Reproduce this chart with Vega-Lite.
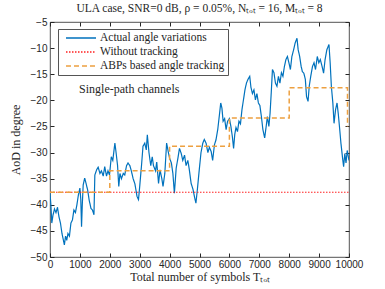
{
  "$schema": "https://vega.github.io/schema/vega-lite/v6.json",
  "autosize": "none",
  "width": 299,
  "height": 235,
  "padding": {"left": 50, "top": 22, "right": 36, "bottom": 32},
  "background": "white",
  "config": {
    "view": {"stroke": "#262626", "strokeWidth": 0.8},
    "axis": {
      "labelFont": "Liberation Sans",
      "labelFontSize": 10,
      "labelColor": "#262626",
      "titleFont": "Liberation Serif",
      "titleFontSize": 12,
      "titleFontWeight": "normal",
      "titleColor": "#262626",
      "domainColor": "#262626",
      "tickColor": "#262626",
      "grid": false
    },
    "legend": {
      "labelFont": "Liberation Serif",
      "labelFontSize": 11.5,
      "labelColor": "#262626",
      "labelLimit": 300,
      "symbolType": "M-3,0H3",
      "symbolSize": 100,
      "symbolStrokeWidth": 1.4,
      "symbolFillColor": "transparent",
      "strokeColor": "#555555",
      "fillColor": "white",
      "padding": 3,
      "rowPadding": 2,
      "symbolOffset": 14,
      "labelOffset": 13
    }
  },
  "title": {
    "text": "ULA case, SNR=0 dB, ρ = 0.05%, Nₜₒₜ = 16, Mₜₒₜ = 8",
    "font": "Liberation Serif",
    "fontSize": 11.5,
    "fontWeight": "normal",
    "color": "#262626",
    "offset": 3
  },
  "resolve": {"axis": {"x": "independent", "y": "independent"}},
  "layer": [
    {
      "data": {"values": [
        {"t": 0, "aod": -37.8}, {"t": 30, "aod": -40}, {"t": 60, "aod": -43.5}, {"t": 100, "aod": -42},
        {"t": 150, "aod": -40.8}, {"t": 200, "aod": -41.5}, {"t": 250, "aod": -40.5}, {"t": 300, "aod": -42.3},
        {"t": 350, "aod": -43.5}, {"t": 400, "aod": -45.5}, {"t": 450, "aod": -46.8}, {"t": 480, "aod": -47.7},
        {"t": 520, "aod": -46}, {"t": 560, "aod": -46.8}, {"t": 600, "aod": -45.5}, {"t": 650, "aod": -46},
        {"t": 700, "aod": -43.5}, {"t": 750, "aod": -42.9}, {"t": 800, "aod": -41}, {"t": 850, "aod": -41.5},
        {"t": 900, "aod": -40}, {"t": 950, "aod": -38.1}, {"t": 1000, "aod": -36.8}, {"t": 1030, "aod": -39},
        {"t": 1055, "aod": -44.2}, {"t": 1080, "aod": -40}, {"t": 1110, "aod": -36.2}, {"t": 1160, "aod": -34.9},
        {"t": 1210, "aod": -36}, {"t": 1260, "aod": -37.2}, {"t": 1310, "aod": -39.1}, {"t": 1370, "aod": -40.7},
        {"t": 1420, "aod": -41}, {"t": 1470, "aod": -41.9}, {"t": 1500, "aod": -34.3}, {"t": 1560, "aod": -33.3},
        {"t": 1610, "aod": -32.8}, {"t": 1670, "aod": -34}, {"t": 1720, "aod": -33.5}, {"t": 1780, "aod": -34.5},
        {"t": 1830, "aod": -32.7}, {"t": 1890, "aod": -34.5}, {"t": 1940, "aod": -33.5}, {"t": 1990, "aod": -34.3},
        {"t": 2050, "aod": -30.8}, {"t": 2100, "aod": -31.5}, {"t": 2170, "aod": -28.2}, {"t": 2210, "aod": -30},
        {"t": 2260, "aod": -32.5}, {"t": 2300, "aod": -36.5}, {"t": 2340, "aod": -34}, {"t": 2390, "aod": -35},
        {"t": 2450, "aod": -34}, {"t": 2500, "aod": -34.3}, {"t": 2560, "aod": -32.5}, {"t": 2610, "aod": -32},
        {"t": 2670, "aod": -32.5}, {"t": 2720, "aod": -33.5}, {"t": 2780, "aod": -35}, {"t": 2840, "aod": -36},
        {"t": 2910, "aod": -38.4}, {"t": 2960, "aod": -39}, {"t": 3000, "aod": -36.5}, {"t": 3060, "aod": -32.5},
        {"t": 3110, "aod": -28.8}, {"t": 3170, "aod": -28.2}, {"t": 3220, "aod": -29.5}, {"t": 3255, "aod": -26.6},
        {"t": 3310, "aod": -30}, {"t": 3370, "aod": -32.5}, {"t": 3420, "aod": -30.8}, {"t": 3460, "aod": -32.5},
        {"t": 3530, "aod": -33.5}, {"t": 3570, "aod": -31.8}, {"t": 3630, "aod": -35.9}, {"t": 3680, "aod": -33.3},
        {"t": 3740, "aod": -35}, {"t": 3780, "aod": -36.5}, {"t": 3840, "aod": -34}, {"t": 3900, "aod": -28.2},
        {"t": 3960, "aod": -30}, {"t": 4000, "aod": -31.1}, {"t": 4060, "aod": -32}, {"t": 4110, "aod": -34},
        {"t": 4160, "aod": -37.8}, {"t": 4220, "aod": -33}, {"t": 4280, "aod": -31}, {"t": 4330, "aod": -29.2},
        {"t": 4390, "aod": -30.2}, {"t": 4440, "aod": -31.5}, {"t": 4500, "aod": -30.5}, {"t": 4550, "aod": -32.5},
        {"t": 4610, "aod": -31.5}, {"t": 4660, "aod": -33.3}, {"t": 4720, "aod": -35.9}, {"t": 4780, "aod": -37},
        {"t": 4830, "aod": -38.4}, {"t": 4880, "aod": -39.7}, {"t": 4930, "aod": -37}, {"t": 4980, "aod": -34},
        {"t": 5050, "aod": -30}, {"t": 5110, "aod": -28.2}, {"t": 5160, "aod": -27.5}, {"t": 5220, "aod": -28.2},
        {"t": 5280, "aod": -30}, {"t": 5330, "aod": -29}, {"t": 5390, "aod": -29.8}, {"t": 5440, "aod": -31.5},
        {"t": 5500, "aod": -28.5}, {"t": 5550, "aod": -27.6}, {"t": 5610, "aod": -25.6}, {"t": 5660, "aod": -23.1},
        {"t": 5710, "aod": -20.5}, {"t": 5750, "aod": -21.5}, {"t": 5790, "aod": -24}, {"t": 5840, "aod": -23.5},
        {"t": 5890, "aod": -25.6}, {"t": 5940, "aod": -24}, {"t": 6000, "aod": -23.5}, {"t": 6050, "aod": -25},
        {"t": 6100, "aod": -27}, {"t": 6140, "aod": -29.2}, {"t": 6180, "aod": -26.5}, {"t": 6220, "aod": -25.2},
        {"t": 6270, "aod": -26}, {"t": 6320, "aod": -24}, {"t": 6370, "aod": -24.5}, {"t": 6420, "aod": -21.8},
        {"t": 6470, "aod": -19.9}, {"t": 6520, "aod": -18}, {"t": 6570, "aod": -16.7}, {"t": 6620, "aod": -16},
        {"t": 6680, "aod": -15.4}, {"t": 6720, "aod": -17.5}, {"t": 6770, "aod": -18.7}, {"t": 6820, "aod": -18},
        {"t": 6870, "aod": -19.9}, {"t": 6920, "aod": -18.7}, {"t": 6970, "aod": -20.5}, {"t": 7020, "aod": -21},
        {"t": 7070, "aod": -23.1}, {"t": 7120, "aod": -25.6}, {"t": 7180, "aod": -27.2}, {"t": 7230, "aod": -25},
        {"t": 7270, "aod": -23.1}, {"t": 7320, "aod": -25}, {"t": 7360, "aod": -22.5}, {"t": 7400, "aod": -18.5},
        {"t": 7440, "aod": -14.1}, {"t": 7490, "aod": -14.7}, {"t": 7540, "aod": -16.7}, {"t": 7590, "aod": -17.3},
        {"t": 7640, "aod": -15.4}, {"t": 7690, "aod": -16.7}, {"t": 7740, "aod": -14.7}, {"t": 7790, "aod": -15.4},
        {"t": 7840, "aod": -13.5}, {"t": 7890, "aod": -12.2}, {"t": 7940, "aod": -11.6}, {"t": 7990, "aod": -12.8},
        {"t": 8040, "aod": -14.1}, {"t": 8090, "aod": -11.6}, {"t": 8140, "aod": -10.5}, {"t": 8200, "aod": -9},
        {"t": 8260, "aod": -8.1}, {"t": 8300, "aod": -10.3}, {"t": 8350, "aod": -11.6}, {"t": 8400, "aod": -13.5},
        {"t": 8440, "aod": -14.5}, {"t": 8490, "aod": -14.8}, {"t": 8540, "aod": -16}, {"t": 8580, "aod": -19.3},
        {"t": 8630, "aod": -20.2}, {"t": 8670, "aod": -17.3}, {"t": 8720, "aod": -15.4}, {"t": 8780, "aod": -13.5},
        {"t": 8830, "aod": -12.8}, {"t": 8880, "aod": -14.1}, {"t": 8940, "aod": -11.6}, {"t": 8990, "aod": -12.8},
        {"t": 9040, "aod": -12.2}, {"t": 9100, "aod": -13.5}, {"t": 9150, "aod": -14.8}, {"t": 9200, "aod": -12.2},
        {"t": 9260, "aod": -10.3}, {"t": 9330, "aod": -9.3}, {"t": 9370, "aod": -12.8}, {"t": 9410, "aod": -17.3},
        {"t": 9460, "aod": -20.5}, {"t": 9500, "aod": -24.4}, {"t": 9550, "aod": -21.8}, {"t": 9600, "aod": -20.5},
        {"t": 9640, "aod": -22.5}, {"t": 9690, "aod": -25.6}, {"t": 9730, "aod": -28.2}, {"t": 9780, "aod": -30.8},
        {"t": 9820, "aod": -32.7}, {"t": 9860, "aod": -30.2}, {"t": 9900, "aod": -32}, {"t": 9940, "aod": -29.6},
        {"t": 10000, "aod": -31.5}
      ]},
      "transform": [{"calculate": "'Actual angle variations'", "as": "series"}],
      "mark": {"type": "line", "strokeWidth": 1.2, "clip": true},
      "encoding": {
        "x": {"field": "t", "type": "quantitative",
              "scale": {"domain": [0, 10000], "nice": false},
              "axis": {"values": [0,1000,2000,3000,4000,5000,6000,7000,8000,9000,10000], "format": "d", "title": "Total number of symbols Tₜₒₜ", "tickSize": -4, "labelPadding": 6, "titlePadding": 2, "labelFlush": false, "domain": false}},
        "y": {"field": "aod", "type": "quantitative",
              "scale": {"domain": [-50, -5], "nice": false},
              "axis": {"values": [-50,-45,-40,-35,-30,-25,-20,-15,-10,-5], "format": "d", "title": "AoD in degree", "tickSize": -4, "labelPadding": 7, "titlePadding": 8, "domain": false}},
        "color": {"field": "series", "type": "nominal",
                  "scale": {"domain": ["Actual angle variations", "Without tracking", "ABPs based angle tracking"], "range": ["#0072BD", "#FF2020", "#EDA040"]},
                  "legend": {"title": null, "orient": "none", "legendX": 8, "legendY": 7}},
        "strokeDash": {"field": "series", "type": "nominal",
                       "scale": {"domain": ["Actual angle variations", "Without tracking", "ABPs based angle tracking"], "range": [[1, 0], [1.5, 1.5], [5, 3]]},
                       "legend": null}
      }
    },
    {
      "data": {"values": [{"t": 0, "aod": -37.6}, {"t": 10000, "aod": -37.6}]},
      "transform": [{"calculate": "'Without tracking'", "as": "series"}],
      "mark": {"type": "line", "strokeWidth": 1, "strokeDash": [1.5, 1.5]},
      "encoding": {
        "x": {"field": "t", "type": "quantitative", "axis": {"orient": "top", "labels": false, "title": null, "tickSize": -4, "domain": false, "values": [0,1000,2000,3000,4000,5000,6000,7000,8000,9000,10000]}},
        "y": {"field": "aod", "type": "quantitative", "axis": {"orient": "right", "labels": false, "title": null, "tickSize": -4, "domain": false, "values": [-50,-45,-40,-35,-30,-25,-20,-15,-10,-5]}},
        "color": {"field": "series", "type": "nominal"}
      }
    },
    {
      "data": {"values": [
        {"t": 0, "aod": -37.6}, {"t": 2000, "aod": -33.5}, {"t": 4000, "aod": -28.8},
        {"t": 6000, "aod": -23.4}, {"t": 8000, "aod": -17.6}, {"t": 9950, "aod": -25}
      ]},
      "transform": [{"calculate": "'ABPs based angle tracking'", "as": "series"}],
      "mark": {"type": "line", "strokeWidth": 1.5, "strokeDash": [5, 3], "interpolate": "step-after"},
      "encoding": {
        "x": {"field": "t", "type": "quantitative", "axis": null},
        "y": {"field": "aod", "type": "quantitative", "axis": null},
        "color": {"field": "series", "type": "nominal"}
      }
    },
    {
      "data": {"values": [{"t": 2650, "aod": -17.8, "label": "Single-path channels"}]},
      "mark": {"type": "text", "font": "Liberation Serif", "fontSize": 12, "color": "#262626", "align": "center", "baseline": "middle"},
      "encoding": {
        "x": {"field": "t", "type": "quantitative", "axis": null},
        "y": {"field": "aod", "type": "quantitative", "axis": null},
        "text": {"field": "label"}
      }
    }
  ]
}
